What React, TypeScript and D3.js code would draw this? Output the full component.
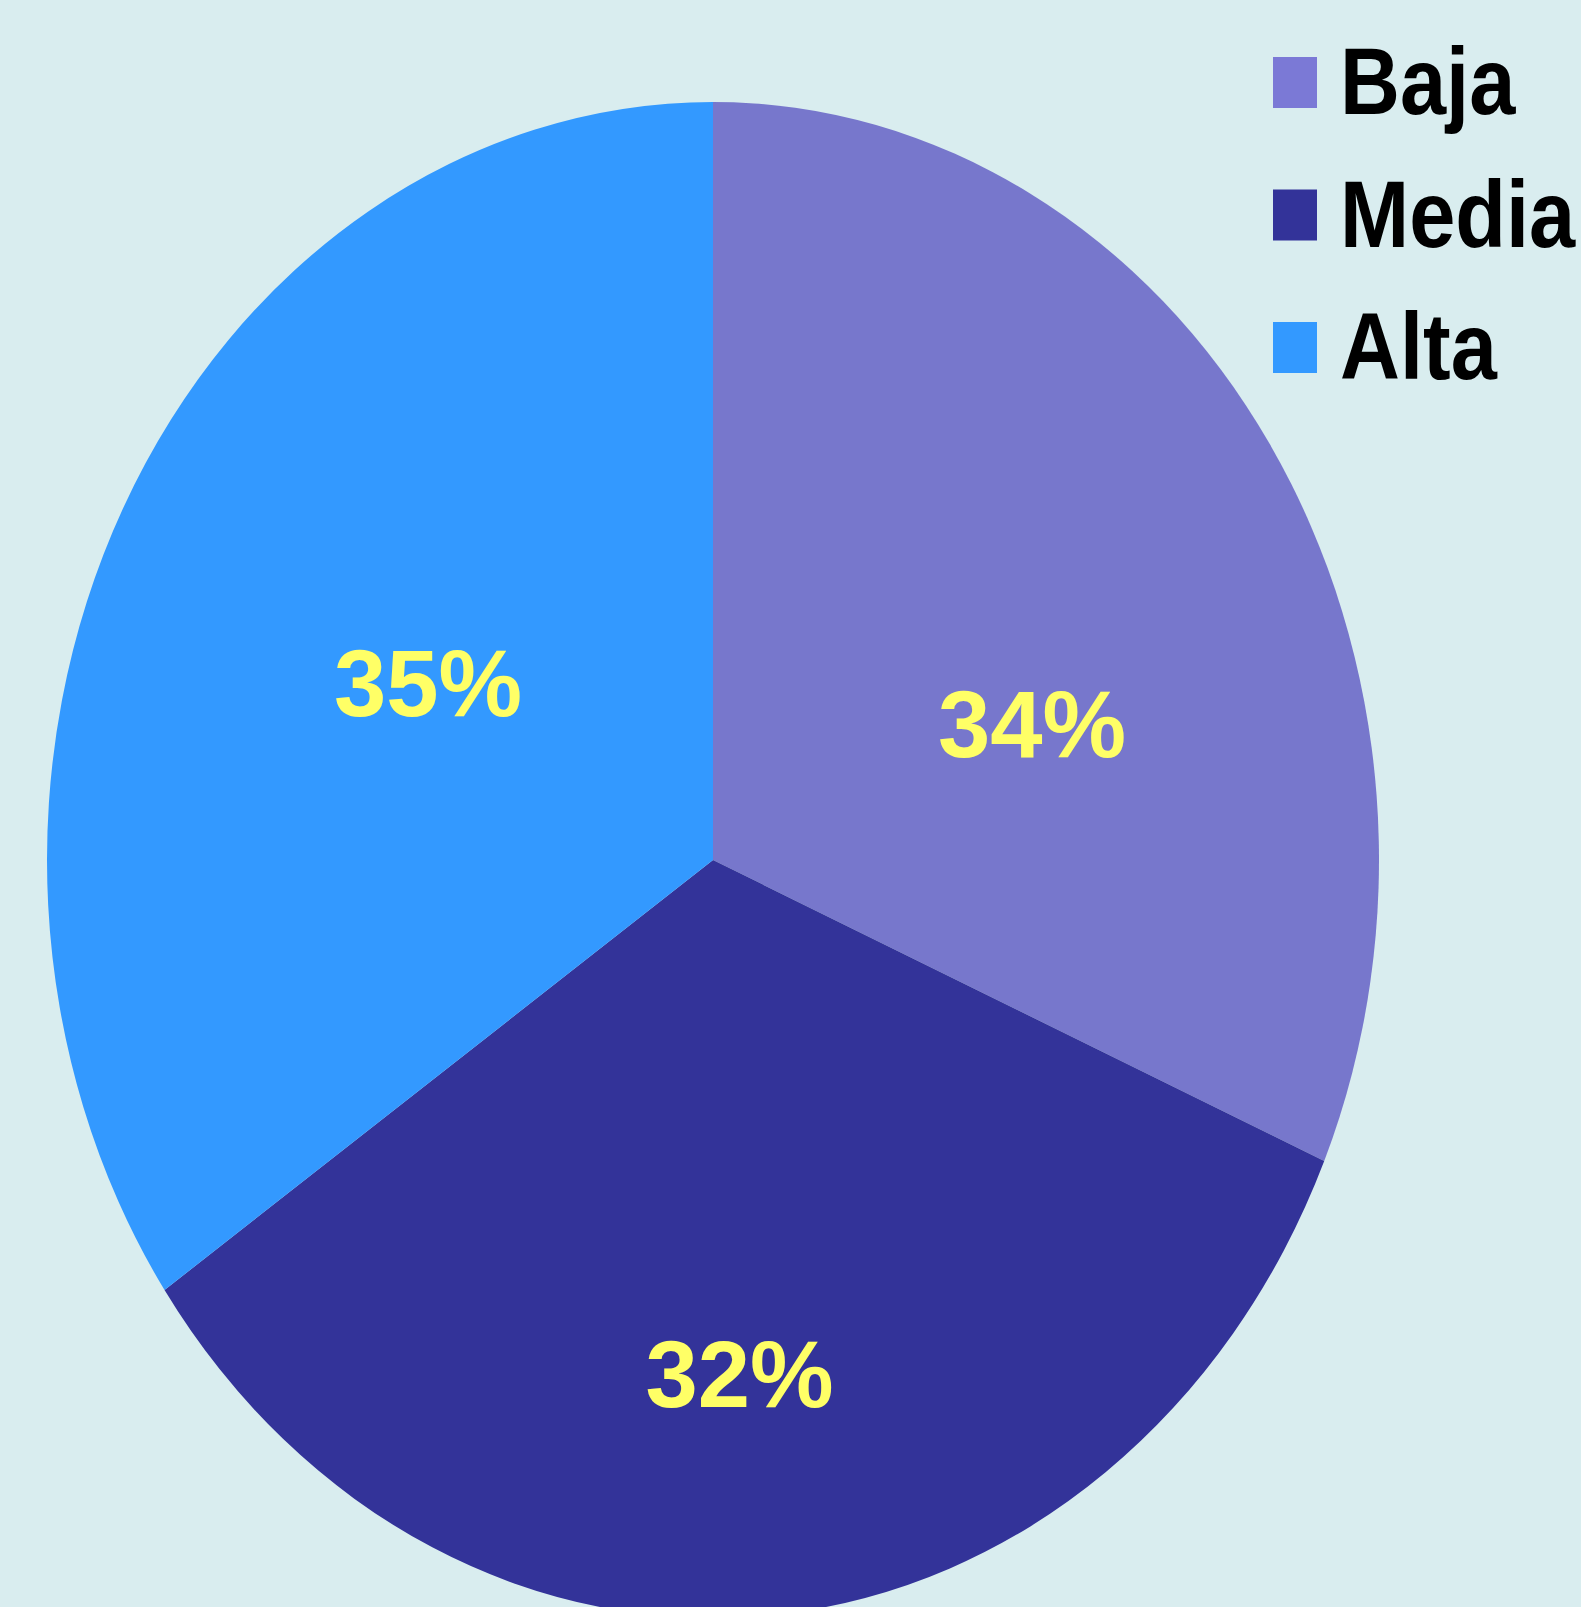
import React from "react";
import * as d3 from "d3";

const categories = ["Baja", "Media", "Alta"];
const percentLabels = [34, 32, 35];
// slice sizes as drawn in the picture (share of the full turn, %)
const sliceShares = [31.5, 33.9, 34.6];
const colors = ["#7777CC", "#333399", "#3399FF"];
const legendColors = ["#7B79D6", "#333399", "#3399FF"];
// label placement: radial fraction and angular tweak (degrees)
const labelRadius = [0.512, 0.678, 0.488];
const labelAngleOffset = [12.6, 2.2, 1.0];

const W = 1581;
const H = 1607;
const cx = 713;
const cy = 860;
const rx = 666;
const ry = 758;

export default function App() {
  React.useEffect(() => {
    document.body.style.margin = "0";
  }, []);
  const pie = d3.pie<number>().sort(null).value((d) => d)(sliceShares);
  const arc = d3.arc<d3.PieArcDatum<number>>().innerRadius(0).outerRadius(rx);
  const font = "'Liberation Sans', Arial, Helvetica, sans-serif";
  return (
    <svg width={W} height={H} style={{ position: "absolute", left: 0, top: 0, display: "block" }}>
      <rect x={0} y={0} width={W} height={H} fill="#D9EDEF" />
      <g transform={`translate(${cx},${cy}) scale(1,${ry / rx})`}>
        {pie.map((p, i) => (
          <path key={i} d={arc(p) || ""} fill={colors[i]} />
        ))}
      </g>
      {pie.map((p, i) => {
        const a = (p.startAngle + p.endAngle) / 2 + (labelAngleOffset[i] * Math.PI) / 180;
        const x = cx + rx * labelRadius[i] * Math.sin(a);
        const y = cy - ry * labelRadius[i] * Math.cos(a);
        return (
          <text
            key={i}
            x={x}
            y={y}
            dy="0.36em"
            textAnchor="middle"
            fontFamily={font}
            fontWeight="bold"
            fontSize={94}
            fill="#FFFF66"
            style={{ fontStretch: "normal" }}
          >
            {percentLabels[i]}%
          </text>
        );
      })}
      {categories.map((c, i) => {
        const baseY = 114 + i * 132.5;
        return (
          <g key={c}>
            <rect x={1273} y={baseY - 57} width={44} height={51} fill={legendColors[i]} />
            <text
              transform={`translate(1340,${baseY}) scale(1,1.15)`}
              fontFamily={font}
              fontWeight="bold"
              fontSize={83}
              fill="#000000"
              style={{ fontStretch: "normal" }}
            >
              {c}
            </text>
          </g>
        );
      })}
    </svg>
  );
}
